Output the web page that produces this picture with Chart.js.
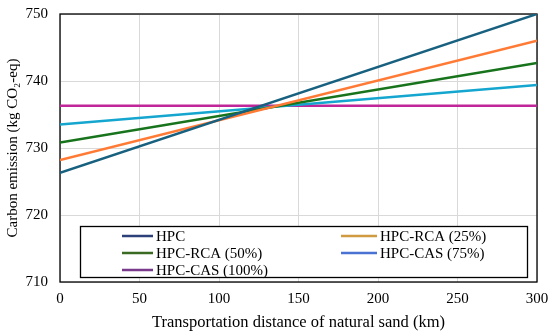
<!DOCTYPE html>
<html>
<head>
<meta charset="utf-8">
<script src="https://cdn.jsdelivr.net/npm/chart.js@4/dist/chart.umd.min.js"></script>
<style>
  html, body { margin: 0; padding: 0; background: #ffffff; }
  #wrap { width: 550px; height: 336px; position: relative; }
</style>
</head>
<body>
<div id="wrap"><canvas id="c"></canvas></div>
<script>
/* data */
var distances = [0, 300];
var seriesNames = ["HPC", "HPC-RCA (25%)", "HPC-RCA (50%)", "HPC-CAS (75%)", "HPC-CAS (100%)"];
var hpc = [726.3, 750.0];
var rca25 = [728.2, 746.0];
var rca50 = [730.8, 742.7];
var cas75 = [733.5, 739.4];
var cas100 = [736.3, 736.3];
var lineColors = ["#17607f", "#ff7a35", "#18741c", "#14a6cf", "#c0259a"];
var legendColors = ["#2d407a", "#cf9a42", "#3b6a22", "#4a72d2", "#7a3a8c"];
var yTicks = [710, 720, 730, 740, 750];
var xTicks = [0, 50, 100, 150, 200, 250, 300];

var FONT = '"Liberation Serif", "Times New Roman", serif';

(function () {
  var values = [hpc, rca25, rca50, cas75, cas100];

  function toPoints(vals) {
    return vals.map(function (v, i) { return { x: distances[i], y: v }; });
  }

  var datasets = values.map(function (vals, i) {
    return {
      label: seriesNames[i],
      data: toPoints(vals),
      borderColor: lineColors[i],
      backgroundColor: lineColors[i],
      borderWidth: 2.5,
      pointRadius: 0,
      tension: 0
    };
  });

  /* boxed legend inside the plot, two columns */
  var boxLegend = {
    id: "boxLegend",
    afterDraw: function (chart) {
      var ctx = chart.ctx;
      var box = { x: 80.5, y: 226.5, w: 447, h: 51 };
      ctx.save();
      ctx.fillStyle = "#ffffff";
      ctx.fillRect(box.x, box.y, box.w, box.h);
      ctx.strokeStyle = "#000000";
      ctx.lineWidth = 1.3;
      ctx.strokeRect(box.x, box.y, box.w, box.h);
      ctx.font = "15px " + FONT;
      ctx.textBaseline = "middle";
      ctx.fillStyle = "#000000";
      var cols = [{ l0: 122, l1: 153, t: 156 }, { l0: 341, l1: 377, t: 380 }];
      var rows = [236, 253, 270];
      chart.data.datasets.forEach(function (ds, i) {
        var c = cols[i % 2];
        var y = rows[Math.floor(i / 2)];
        ctx.strokeStyle = legendColors[i];
        ctx.lineWidth = 2.5;
        ctx.beginPath();
        ctx.moveTo(c.l0, y);
        ctx.lineTo(c.l1, y);
        ctx.stroke();
        ctx.fillText(ds.label, c.t, y + 1);
      });
      ctx.restore();
    }
  };

  /* black frame around the plot area */
  var frame = {
    id: "frame",
    beforeDatasetsDraw: function (chart) {
      var a = chart.chartArea;
      var ctx = chart.ctx;
      ctx.save();
      ctx.strokeStyle = "#000000";
      ctx.lineWidth = 1.3;
      ctx.strokeRect(a.left, a.top, a.right - a.left, a.bottom - a.top);
      ctx.restore();
    }
  };

  function noEdgePadding(axis) {
    axis.paddingTop = 0;
    axis.paddingBottom = 0;
    axis.paddingLeft = 0;
    axis.paddingRight = 0;
  }

  function init() {
    new Chart(document.getElementById("c"), {
      type: "line",
      data: { datasets: datasets },
      options: {
        responsive: true,
        maintainAspectRatio: false,
        animation: false,
        layout: { padding: { left: 0, right: 13, top: 14, bottom: 0 } },
        scales: {
          x: {
            type: "linear",
            min: 0,
            max: 300,
            afterBuildTicks: function (axis) {
              axis.ticks = xTicks.map(function (v) { return { value: v }; });
            },
            afterFit: function (axis) { axis.height = 54; noEdgePadding(axis); },
            border: { display: false },
            grid: { color: "#d9d9d9", lineWidth: 1, drawTicks: false },
            ticks: { color: "#000000", padding: 8, font: { family: FONT, size: 15 } },
            title: {
              display: true,
              text: "Transportation distance of natural sand (km)",
              color: "#000000",
              padding: { top: 2, bottom: 3 },
              font: { family: FONT, size: 16.5 }
            }
          },
          y: {
            min: 710,
            max: 750,
            afterBuildTicks: function (axis) {
              axis.ticks = yTicks.map(function (v) { return { value: v }; });
            },
            afterFit: function (axis) { axis.width = 60; noEdgePadding(axis); },
            border: { display: false },
            grid: { color: "#d9d9d9", lineWidth: 1, drawTicks: false },
            ticks: { color: "#000000", padding: 12, font: { family: FONT, size: 15 } },
            title: {
              display: true,
              text: "Carbon emission (kg CO\u2082-eq)",
              color: "#000000",
              padding: { top: 4, bottom: 0 },
              font: { family: FONT, size: 15 }
            }
          }
        },
        plugins: {
          legend: { display: false },
          tooltip: { enabled: false }
        }
      },
      plugins: [frame, boxLegend]
    });
  }

  if (document.readyState === "loading") {
    document.addEventListener("DOMContentLoaded", init);
  } else {
    init();
  }
})();
</script>
</body>
</html>
